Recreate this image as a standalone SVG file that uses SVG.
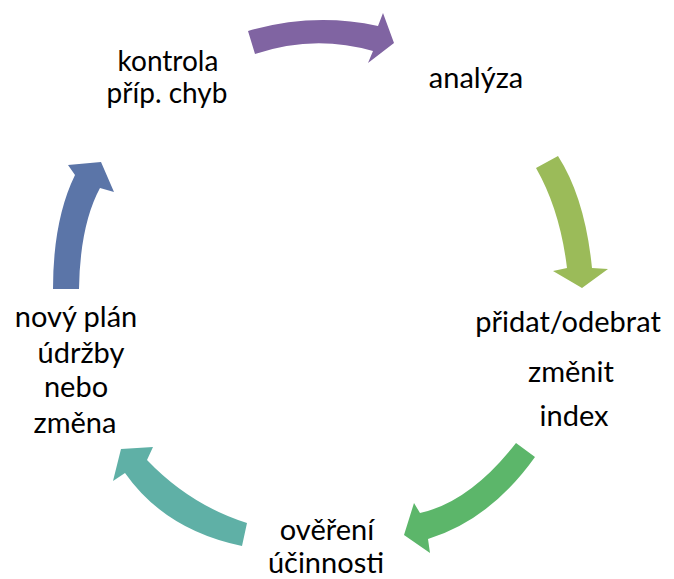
<svg xmlns="http://www.w3.org/2000/svg" width="674" height="579" viewBox="0 0 674 579">
<style>
  .t { font-family: Lato, "Open Sans", "Liberation Sans", sans-serif; font-size: 29px; fill: #000; text-anchor: middle; }
  .s { font-size: 28px; }
</style>
<rect width="674" height="579" fill="#fff"/>
<g id="connectors">
  <path id="a1" fill="#8064A2" d="M248,31 Q313,12 378,26 L383,13 L394,43 L368,63 L373,51 Q314,34 255,54 Z"/>
  <path id="a2" fill="#9BBB59" d="M536,168 L558,156 Q585,198 592,268 L608,269 L582,288 L553,271 L567,268 Q560,210 536,168 Z"/>
  <path id="a3" fill="#5CB66A" d="M516,443 L535,457 Q490,520 428,539 L430,553 L404,535 L414,503 L420,513 Q470,502 516,443 Z"/>
  <path id="a4" fill="#5FB0A6" d="M247,523 Q190,505 147,460 L153,447 L121,449 L113,481 L125,473 Q165,530 242,546 Z"/>
  <path id="a5" fill="#5B75A8" d="M53,289 Q53,220 75,175 L68,165 L101,162 L114,192 L100,188 Q80,225 79,289 Z"/>
</g>
<g id="n-kontrola">
  <text class="t s" x="168" y="71">kontrola</text>
  <text class="t s" x="167" y="103">příp. chyb</text>
</g>
<g id="n-analyza">
  <text class="t" x="476" y="88">analýza</text>
</g>
<g id="n-pridat">
  <text class="t" x="568" y="332">přidat/odebrat</text>
  <text class="t" x="571" y="382">změnit</text>
  <text class="t" x="574" y="426">index</text>
</g>
<g id="n-overeni">
  <text class="t" x="327" y="540">ověření</text>
  <text class="t" x="326" y="573">účinnosti</text>
</g>
<g id="n-novy">
  <text class="t" x="76" y="327">nový plán</text>
  <text class="t" x="81" y="363">údržby</text>
  <text class="t" x="76" y="397">nebo</text>
  <text class="t" x="75" y="433">změna</text>
</g>
</svg>
